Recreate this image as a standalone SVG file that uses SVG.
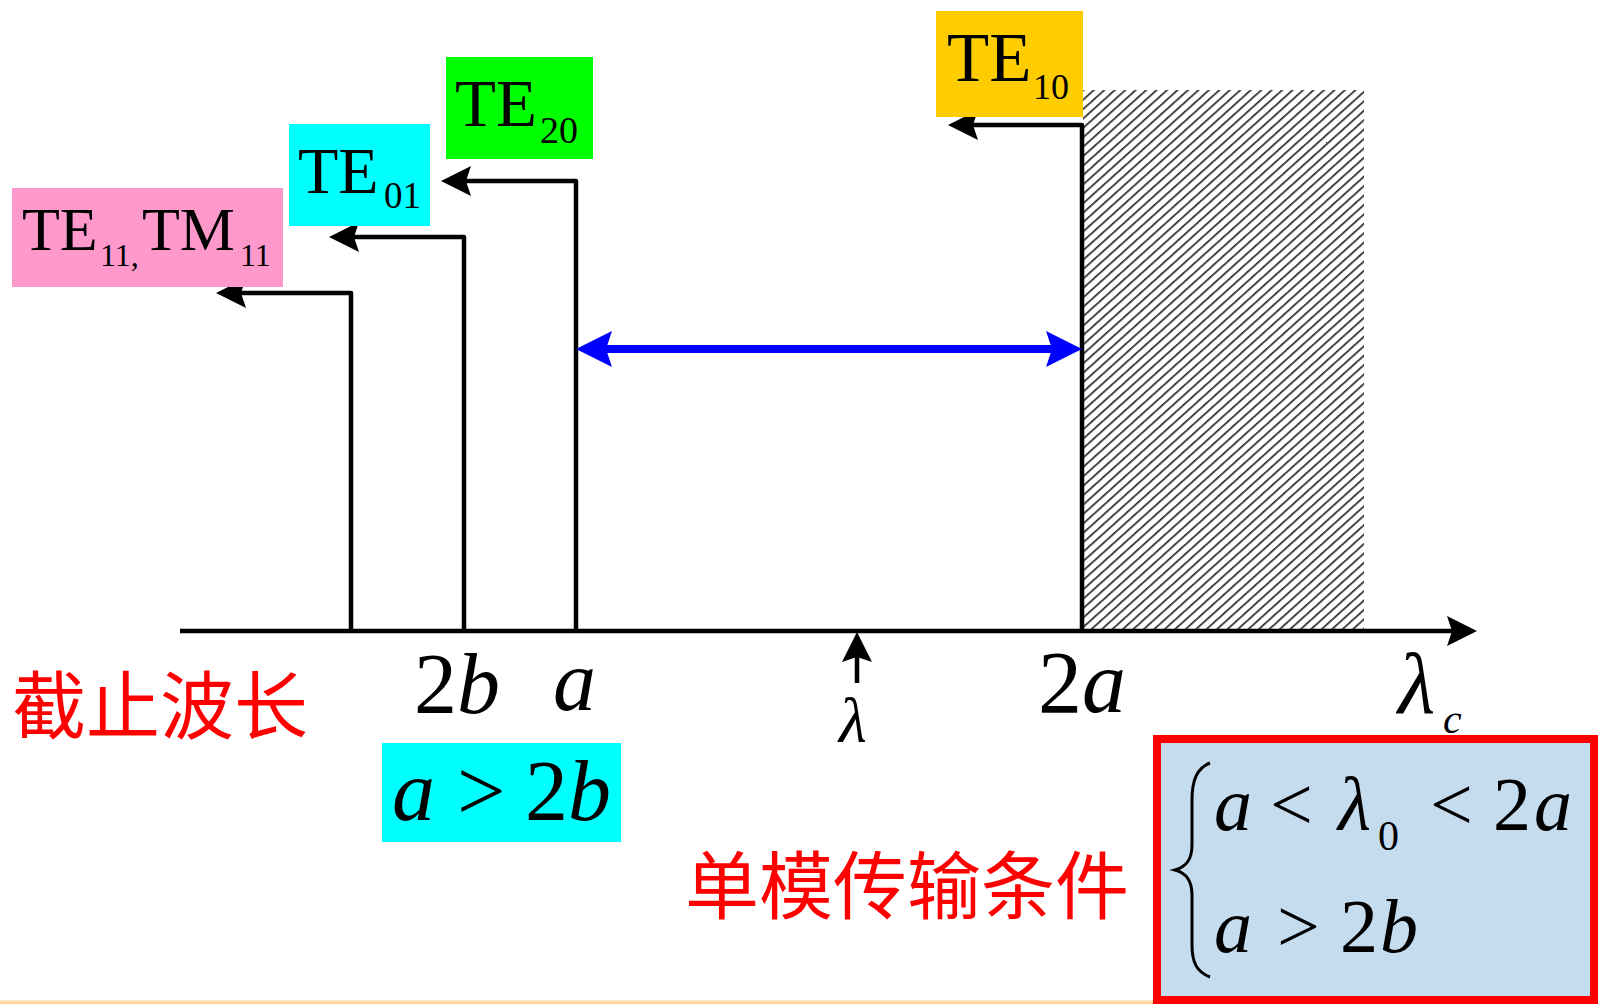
<svg xmlns="http://www.w3.org/2000/svg" width="1598" height="1004" viewBox="0 0 1598 1004">
<style>
.s{font-family:"Liberation Serif","Times New Roman",serif;fill:#000}
.i{font-style:italic}
.cn{font-family:"Noto Sans CJK SC","Noto Sans CJK JP",sans-serif;fill:#FF0000}
.ln{fill:none;stroke:#000;stroke-width:4.5;stroke-linejoin:round}
</style>
<defs>
<marker id="ah" viewBox="0 0 30 30" refX="9" refY="15" markerWidth="30" markerHeight="30" markerUnits="userSpaceOnUse" orient="auto">
<path d="M0,0 L30,15 L0,30 L5,15 Z" fill="#000"/>
</marker>
<marker id="bh" viewBox="0 0 36 36" refX="12" refY="18" markerWidth="36" markerHeight="36" markerUnits="userSpaceOnUse" orient="auto-start-reverse">
<path d="M0,0 L36,18 L0,36 L6,18 Z" fill="#0000FF"/>
</marker>
<pattern id="hatch" patternUnits="userSpaceOnUse" width="12" height="7" patternTransform="rotate(-42)">
<rect width="12" height="7" fill="#fff"/>
<rect y="0" width="12" height="1.7" fill="#2a2a2a"/>
</pattern>
<linearGradient id="og" x1="0" y1="0" x2="0" y2="1">
<stop offset="0" stop-color="#FCEBD0"/>
<stop offset="1" stop-color="#F8CF87"/>
</linearGradient>
</defs>
<rect width="1598" height="1004" fill="#fff"/>
<rect x="0" y="1000" width="1598" height="4" fill="url(#og)"/>

<g id="hatched-region">
<rect x="1083" y="90" width="281" height="541" fill="url(#hatch)"/>
</g>

<g id="connectors">
<path class="ln" d="M180,631 H1456" marker-end="url(#ah)"/>
<path class="ln" d="M351,631 V293 H237" marker-end="url(#ah)"/>
<path class="ln" d="M464,631 V237 H350" marker-end="url(#ah)"/>
<path class="ln" d="M576,631 V181 H462" marker-end="url(#ah)"/>
<path class="ln" d="M1082,631 V125 H969" marker-end="url(#ah)"/>
<path class="ln" d="M857,683 V653" marker-end="url(#ah)"/>
<path d="M600,349 H1058" stroke="#0000FF" stroke-width="8" fill="none" marker-start="url(#bh)" marker-end="url(#bh)"/>
</g>

<g id="te11-tm11">
<rect x="12" y="188" width="271" height="99" fill="#FF99CC"/>
<text class="s" font-size="62"><tspan x="22" y="250">TE</tspan><tspan x="100" y="266" font-size="32">11,</tspan><tspan x="142" y="250">TM</tspan><tspan x="240" y="266" font-size="32">11</tspan></text>
</g>
<g id="te01">
<rect x="289" y="124" width="141" height="102" fill="#00FFFF"/>
<text class="s" font-size="66"><tspan x="298" y="193">TE</tspan><tspan x="384" y="208" font-size="37">01</tspan></text>
</g>
<g id="te20">
<rect x="446" y="57" width="147" height="102" fill="#00FF00"/>
<text class="s" font-size="67"><tspan x="455" y="126">TE</tspan><tspan x="540" y="143" font-size="38">20</tspan></text>
</g>
<g id="te10">
<rect x="936" y="11" width="147" height="106" fill="#FFCC00"/>
<text class="s" font-size="69"><tspan x="947" y="81">TE</tspan><tspan x="1033" y="99" font-size="36">10</tspan></text>
</g>

<g id="axis-labels">
<text class="s" font-size="86" x="414" y="713">2<tspan class="i">b</tspan></text>
<text class="s i" font-size="86" x="553" y="710">a</text>
<text class="s i" font-size="64" x="839" y="742">λ</text>
<text class="s" font-size="88" x="1038" y="712">2<tspan class="i">a</tspan></text>
<text class="s i" font-size="86" x="1398" y="713">λ</text>
<text class="s i" font-size="42" x="1443" y="733">c</text>
</g>

<g id="cutoff-label">
<text class="cn" font-size="74" x="12" y="733">截止波长</text>
</g>

<g id="a-gt-2b">
<rect x="382" y="743" width="239" height="99" fill="#00FFFF"/>
<text class="s" font-size="86" y="820"><tspan class="i" x="392">a</tspan><tspan x="457">&gt;</tspan><tspan x="525">2</tspan><tspan class="i" x="568">b</tspan></text>
</g>

<g id="single-mode-label">
<text class="cn" font-size="74" x="685" y="913">单模传输条件</text>
</g>

<g id="condition-box">
<rect x="1157" y="739" width="437" height="261" fill="#C5DCEF" stroke="#FF0000" stroke-width="8"/>
<path d="M1210,763 C1197,768 1192,780 1192,800 L1192,845 C1192,860 1186,867 1175,870 C1186,873 1192,880 1192,895 L1192,945 C1192,963 1197,972 1210,977" fill="none" stroke="#000" stroke-width="3"/>
<text class="s" font-size="76" y="830"><tspan class="i" x="1214">a</tspan><tspan x="1270">&lt;</tspan><tspan class="i" x="1338">λ</tspan><tspan x="1378" y="850" font-size="42">0</tspan><tspan x="1430" y="830">&lt;</tspan><tspan x="1493">2</tspan><tspan class="i" x="1534">a</tspan></text>
<text class="s" font-size="76" y="952"><tspan class="i" x="1214">a</tspan><tspan x="1277">&gt;</tspan><tspan x="1340">2</tspan><tspan class="i" x="1380">b</tspan></text>
</g>
</svg>
